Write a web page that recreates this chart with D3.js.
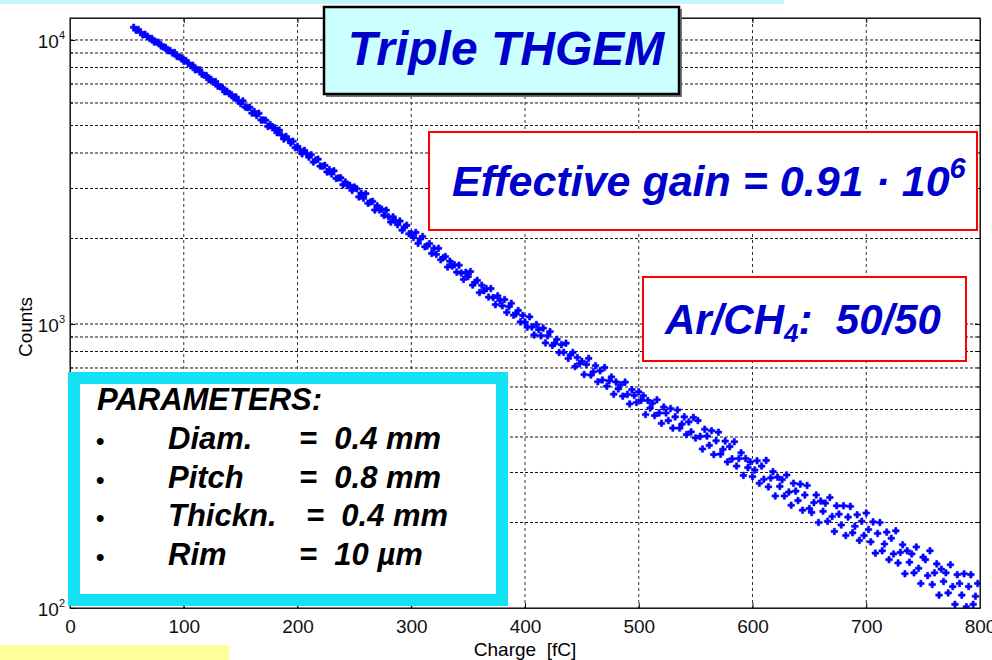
<!DOCTYPE html>
<html>
<head>
<meta charset="utf-8">
<script src="https://cdn.jsdelivr.net/npm/d3@7"></script>
<style>
	body { margin: 0; background: #fff; }
	svg text { font-family: "Liberation Sans", Arial, sans-serif; }
</style>
</head>
<body>
<svg id="chart" width="992" height="660"></svg>
<script>
// charge spectrum, counts per 2 fC bin starting at 56 fC
var binStart = 56, binWidth = 2;
var counts = [
	11080, 10831, 10885, 10629, 10416, 10468, 10296, 10114, 10127, 9830, 9833, 9798, 9522, 9456, 9422, 9167, 9181, 8996, 9030, 8755, 8714, 8664, 8419,
	8459, 8294, 8121, 8144, 7855, 7867, 7841, 7575, 7518, 7494, 7249, 7270, 7097, 7138, 6876, 6844, 6802, 6570, 6600, 6462, 6422, 6250, 6296, 6119, 5971,
	6099, 5805, 5779, 5795, 5528, 5599, 5422, 5519, 5226, 5229, 5217, 4964, 5042, 4906, 4896, 4717, 4814, 4628, 4481, 4573, 4462, 4343, 4399, 4175, 4219,
	4115, 3973, 4086, 3983, 3869, 3943, 3717, 3779, 3804, 3598, 3591, 3617, 3430, 3496, 3377, 3462, 3254, 3268, 3271, 3093, 3163, 3073, 3076, 2953, 3036,
	2994, 2802, 2888, 2770, 2876, 2661, 2688, 2704, 2520, 2609, 2522, 2537, 2413, 2516, 2385, 2285, 2384, 2314, 2237, 2304, 2139, 2196, 2226, 2077, 2081,
	2018, 2101, 1922, 1993, 2033, 1870, 1882, 1920, 1773, 1847, 1759, 1848, 1683, 1711, 1728, 1587, 1664, 1600, 1617, 1523, 1610, 1511, 1436, 1520, 1469,
	1529, 1371, 1402, 1424, 1290, 1369, 1310, 1332, 1244, 1333, 1239, 1170, 1257, 1210, 1159, 1219, 1099, 1152, 1183, 1074, 1085, 1116, 1017, 1072, 1014,
	975, 1060, 976, 915, 996, 956, 909, 967, 858, 909, 940, 841, 853, 883, 794, 846, 795, 856, 756, 778, 794, 708, 762, 725, 739,
	664, 721, 757, 661, 678, 713, 626, 684, 635, 703, 604, 631, 651, 566, 625, 591, 611, 557, 624, 565, 523, 587, 561, 529, 577,
	538, 559, 480, 538, 506, 526, 476, 541, 486, 447, 510, 486, 457, 504, 430, 471, 498, 430, 444, 471, 408, 452, 417, 469, 397,
	457, 402, 363, 426, 403, 374, 421, 347, 388, 416, 348, 362, 387, 327, 370, 335, 385, 316, 336, 352, 293, 336, 312, 327, 290,
	306, 330, 275, 316, 284, 331, 267, 287, 302, 248, 289, 268, 283, 248, 294, 256, 230, 275, 258, 239, 273, 221, 250, 270, 224,
	217, 235, 250, 200, 238, 219, 234, 202, 245, 210, 186, 229, 214, 196, 229, 180, 209, 228, 184, 194, 213, 173, 202, 180, 216,
	189, 171, 201, 156, 183, 200, 159, 168, 185, 148, 176, 155, 187, 144, 157, 167, 132, 159, 145, 155, 133, 164, 138, 122, 151,
	148, 130, 159, 121, 133, 143, 111, 137, 124, 133, 113, 142, 119, 103, 131, 122, 111, 132, 101, 119, 131, 103, 110, 122, 97
];

var chargeTicks = [0, 100, 200, 300, 400, 500, 600, 700, 800];
var countTicks = [100, 1000, 10000];
var countMinor = [200, 300, 400, 500, 600, 700, 800, 900, 2000, 3000, 4000, 5000, 6000, 7000, 8000, 9000];
var params = [
	["Diam.", "= ", "0.4 mm"],
	["Pitch", "= ", "0.8 mm"],
	["Thickn.", "= ", "0.4 mm"],
	["Rim", "= ", "10 µm"]
];

var margin = {top: 18, right: 12, bottom: 52, left: 70},
	width = 992 - margin.left - margin.right,
	height = 660 - margin.top - margin.bottom;

var svg = d3.select("#chart");

// decoration bars from the slide
svg.append("rect").attr("x", 0).attr("y", 0).attr("width", 784).attr("height", 4).style("fill", "#c6f4fc");
svg.append("rect").attr("x", 0).attr("y", 645).attr("width", 229).attr("height", 15).style("fill", "#ffff99");

var g = svg.append("g")
	.attr("transform", "translate(" + margin.left + "," + margin.top + ")");

var x = d3.scaleLinear().domain([0, 800]).range([0, width]);
var y = d3.scaleLog().domain([100, 11950]).range([height, 0]);

var points = counts.map(function(c, i) { return {charge: binStart + i * binWidth, count: c}; });

// grid
g.selectAll(".hgrid")
	.data(countMinor.concat([1000, 10000]))
	.enter().append("line")
		.attr("x1", 0).attr("x2", width)
		.attr("y1", function(d) { return y(d); })
		.attr("y2", function(d) { return y(d); })
		.style("stroke", "#111").style("stroke-dasharray", "3,2");

g.selectAll(".vgrid")
	.data(chargeTicks.slice(1, -1))
	.enter().append("line")
		.attr("y1", 0).attr("y2", height)
		.attr("x1", function(d) { return x(d); })
		.attr("x2", function(d) { return x(d); })
		.style("stroke", "#333").style("stroke-dasharray", "3,3");

// minor ticks on left and right
g.selectAll(".minl")
	.data(countMinor)
	.enter().append("line")
		.attr("x1", 0).attr("x2", 3)
		.attr("y1", function(d) { return y(d); }).attr("y2", function(d) { return y(d); })
		.style("stroke", "#000");
g.selectAll(".minr")
	.data(countMinor)
	.enter().append("line")
		.attr("x1", width - 3).attr("x2", width)
		.attr("y1", function(d) { return y(d); }).attr("y2", function(d) { return y(d); })
		.style("stroke", "#000");

// axes
var xAxis = d3.axisBottom(x).tickValues(chargeTicks).tickSizeInner(-5).tickSizeOuter(0).tickPadding(12);
g.append("g")
	.attr("class", "x axis")
	.attr("transform", "translate(0," + height + ")")
	.call(xAxis);

g.append("g")
	.call(d3.axisTop(x).tickValues(chargeTicks).tickSizeInner(-5).tickSizeOuter(0).tickFormat(""));

var yAxis = d3.axisLeft(y).tickValues(countTicks).tickSizeInner(-5).tickSizeOuter(0).tickFormat("");
g.append("g").attr("class", "y axis").call(yAxis);
g.append("g")
	.attr("transform", "translate(" + width + ",0)")
	.call(d3.axisRight(y).tickValues(countTicks).tickSizeInner(-5).tickSizeOuter(0).tickFormat(""));

g.selectAll(".axis text").style("font-size", "19px").style("fill", "#111");
g.selectAll(".domain").style("stroke", "#333");

// 10^n labels
var ylab = g.selectAll(".ylab")
	.data(countTicks)
	.enter().append("text")
		.attr("x", -5)
		.attr("y", function(d) { return y(d) + 8; })
		.style("text-anchor", "end")
		.style("font-size", "19px")
		.style("fill", "#111");
ylab.append("tspan").text("10");
ylab.append("tspan")
	.attr("dy", "-9")
	.style("font-size", "11px")
	.text(function(d) { return Math.round(Math.log10(d)); });

// axis titles
svg.append("text")
	.attr("transform", "translate(32," + (margin.top + height / 2 + 14) + ") rotate(-90)")
	.style("text-anchor", "middle")
	.style("font-size", "19px")
	.text("Counts");

svg.append("text")
	.attr("x", margin.left + width / 2)
	.attr("y", 656)
	.style("text-anchor", "middle")
	.style("font-size", "19px")
	.style("white-space", "pre")
	.text("Charge  [fC]");

// the data
g.append("clipPath").attr("id", "clip")
	.append("rect").attr("width", width).attr("height", height + 1);

g.append("g")
	.attr("clip-path", "url(#clip)")
	.selectAll(".dot")
	.data(points)
	.enter().append("path")
		.attr("d", d3.symbol().type(d3.symbolCross).size(24))
		.attr("transform", function(d) { return "translate(" + x(d.charge) + "," + y(d.count) + ")"; })
		.style("fill", "#0000ff")
		.style("stroke", "#0000ff")
		.style("stroke-width", 0.6);

// plot frame
g.append("rect")
	.attr("width", width).attr("height", height)
	.style("fill", "none").style("stroke", "#000");

// title box
svg.append("rect").attr("x", 326).attr("y", 9).attr("width", 356).attr("height", 88).style("fill", "#777");
svg.append("rect")
	.attr("x", 324).attr("y", 7).attr("width", 355).attr("height", 87)
	.style("fill", "#ccffff").style("stroke", "#000").style("stroke-width", 2.5);
svg.append("text")
	.attr("x", 506).attr("y", 65)
	.style("text-anchor", "middle")
	.style("font-size", "48px").style("font-weight", "bold").style("font-style", "italic")
	.style("fill", "#0000cc")
	.text("Triple THGEM");

// gain box
svg.append("rect")
	.attr("x", 429).attr("y", 132).attr("width", 548).attr("height", 98)
	.style("fill", "#fff").style("stroke", "#ff0000").style("stroke-width", 2);
var gain = svg.append("text")
	.attr("x", 452).attr("y", 196)
	.style("font-size", "43px").style("font-weight", "bold").style("font-style", "italic")
	.style("fill", "#0000cc");
gain.append("tspan").text("Effective gain = 0.91 · 10");
gain.append("tspan").attr("dy", "-18").style("font-size", "29px").text("6");

// gas box
svg.append("rect")
	.attr("x", 643).attr("y", 277).attr("width", 323).attr("height", 84)
	.style("fill", "#fff").style("stroke", "#ff0000").style("stroke-width", 2);
var gas = svg.append("text")
	.attr("x", 665).attr("y", 334)
	.style("font-size", "42px").style("font-weight", "bold").style("font-style", "italic")
	.style("fill", "#0000cc").style("white-space", "pre");
gas.append("tspan").text("Ar/CH");
gas.append("tspan").attr("dy", "8").style("font-size", "26px").text("4");
gas.append("tspan").attr("dy", "-8").text(":  50/50");

// parameters box
svg.append("rect")
	.attr("x", 74).attr("y", 378).attr("width", 428).attr("height", 222)
	.style("fill", "#fff").style("stroke", "#15e1f5").style("stroke-width", 12);

var pbox = svg.append("g")
	.style("font-size", "31px").style("font-weight", "bold").style("font-style", "italic")
	.style("fill", "#000");
pbox.append("text").attr("x", 97).attr("y", 410).text("PARAMETERS:");

var rows = pbox.selectAll(".prow")
	.data(params)
	.enter().append("g")
		.attr("transform", function(d, i) { return "translate(0," + (449 + i * 38.5) + ")"; });
rows.append("text").attr("x", 96).style("font-style", "normal").style("font-size", "24px").text("•");
rows.append("text").attr("x", 168).text(function(d) { return d[0]; });
rows.append("text")
	.attr("x", function(d) { return d[0] == "Thickn." ? 306 : 299; })
	.style("white-space", "pre")
	.text(function(d) { return d[1] + " " + d[2]; });
</script>
</body>
</html>
